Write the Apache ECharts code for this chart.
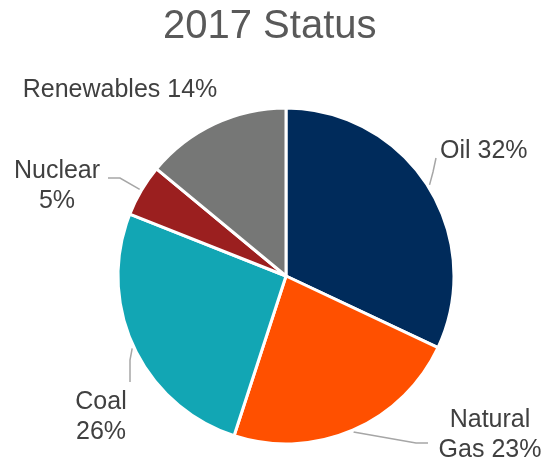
<!DOCTYPE html>
<html>
<head>
<meta charset="utf-8">
<script src="https://cdn.jsdelivr.net/npm/echarts@6/dist/echarts.min.js"></script>
<style>
  html, body { margin: 0; padding: 0; background: #ffffff; }
  #chart { width: 547px; height: 462px; }
</style>
</head>
<body>
<div id="chart"></div>
<script>
// Energy mix shares, clockwise from 12 o'clock
const categories = ['Oil', 'Natural Gas', 'Coal', 'Nuclear', 'Renewables'];
const shares = [32, 23, 26, 5, 14];
const labelTexts = ['Oil 32%', 'Natural\nGas 23%', 'Coal\n26%', 'Nuclear\n5%', 'Renewables 14%'];
const sliceColors = ['#002B5B', '#FF5000', '#12A6B4', '#9B1F1F', '#767776'];

// Pie geometry
const pieCenter = [286, 276];
const pieRadius = 168;

// Where each label sits, and the bend / end of its leader line
const labelSpots = [
  { x: 440, y: 151, align: 'left',   bend: [433, 172], end: [436, 158] },
  { x: 490, y: 435, align: 'center', bend: [416, 443], end: [428, 443] },
  { x: 101, y: 417, align: 'center', bend: [130, 360], end: [130, 382] },
  { x: 57,  y: 186, align: 'center', bend: [120, 178], end: [108, 178] },
  { x: 120, y: 90,  align: 'center', bend: null, end: null }
];

// Point on the rim at the middle of a slice (clockwise from 12 o'clock)
function rimPoint(index) {
  const total = shares.reduce((a, b) => a + b, 0);
  let before = 0;
  for (let i = 0; i < index; i++) before += shares[i];
  const mid = (before + shares[index] / 2) / total * Math.PI * 2;
  const r = pieRadius + 2;
  return [pieCenter[0] + r * Math.sin(mid), pieCenter[1] - r * Math.cos(mid)];
}

const chart = echarts.init(document.getElementById('chart'), null, { renderer: 'canvas' });

const data = categories.map((name, i) => ({
  name: name,
  value: shares[i],
  itemStyle: { color: sliceColors[i] },
  label: { formatter: labelTexts[i] },
  labelLine: { show: labelSpots[i].end !== null }
}));

chart.setOption({
  animation: false,
  title: {
    text: '2017 Status',
    left: 158,
    top: 2,
    textStyle: {
      fontFamily: 'Liberation Sans, Arial, sans-serif',
      fontSize: 40,
      fontWeight: 'normal',
      color: '#595959'
    }
  },
  series: [{
    type: 'pie',
    center: pieCenter,
    radius: [0, pieRadius],
    startAngle: 90,
    clockwise: true,
    data: data,
    itemStyle: { borderColor: '#ffffff', borderWidth: 3 },
    label: {
      show: true,
      position: 'outside',
      overflow: 'none',
      fontFamily: 'Liberation Sans, Arial, sans-serif',
      fontSize: 25,
      lineHeight: 30,
      color: '#404040'
    },
    labelLine: {
      show: true,
      length: 12,
      length2: 12,
      lineStyle: { color: '#a6a6a6', width: 1.5 }
    },
    labelLayout: function (params) {
      const i = params.dataIndex;
      const s = labelSpots[i];
      const out = { x: s.x, y: s.y, align: s.align, verticalAlign: 'middle' };
      if (s.end) {
        out.labelLinePoints = [rimPoint(i), s.bend, s.end];
      }
      return out;
    }
  }]
});
</script>
</body>
</html>
